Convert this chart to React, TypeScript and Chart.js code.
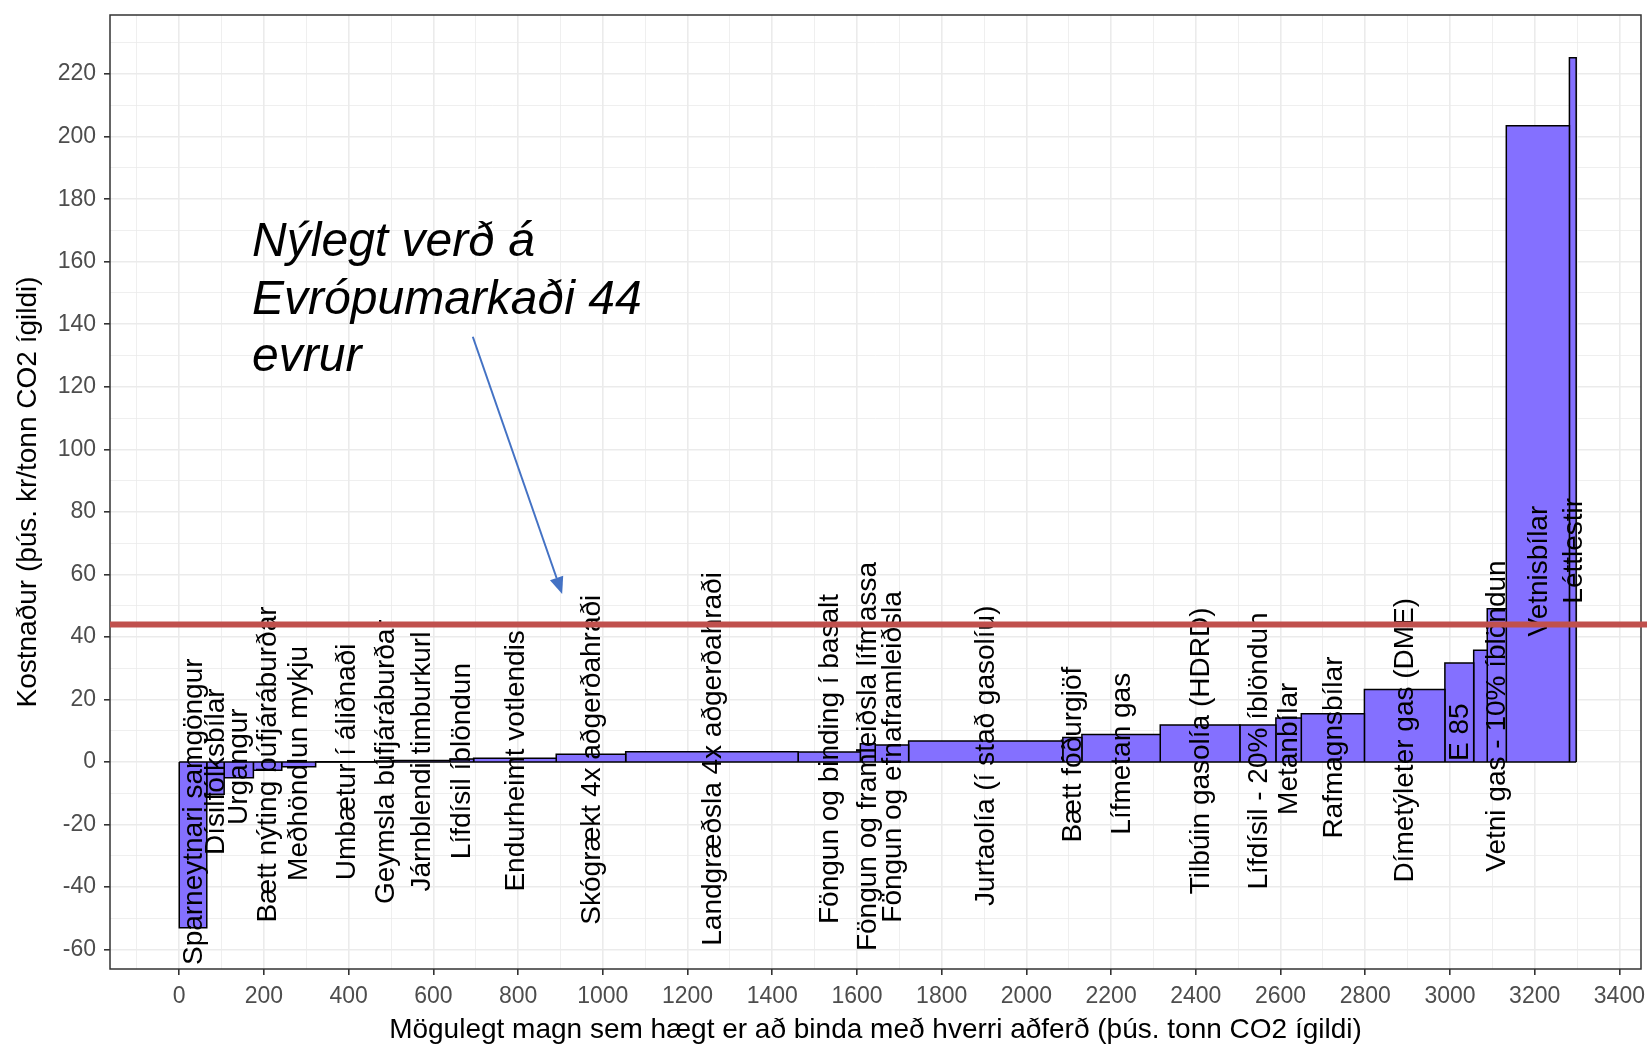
import React, { useEffect, useRef } from 'react';
import { Chart, registerables } from 'chart.js';

Chart.register(...registerables);

// ---- Data ----
const measures = [
  'Sparneytnari samgöngur',
  'Dísilfólksbílar',
  'Urgangur',
  'Bætt nýting búfjáráburðar',
  'Meðhöndlun mykju',
  'Umbætur í áliðnaði',
  'Geymsla búfjáráburðar',
  'Járnblendi timburkurl',
  'Lífdísil íblöndun',
  'Endurheimt votlendis',
  'Skógrækt 4x aðgerðahraði',
  'Landgræðsla 4x aðgerðahraði',
  'Föngun og binding í basalt',
  'Föngun og framleiðsla lífmassa',
  'Föngun og efnaframleiðsla',
  'Jurtaolía (í stað gasolíu)',
  'Bætt fóðurgjöf',
  'Lífmetan gas',
  'Tilbúin gasolía (HDRD)',
  'Lífdísil - 20% íblöndun',
  'Metanbílar',
  'Rafmagnsbílar',
  'Dímetýleter gas (DME)',
  'E 85',
  '',
  'Vetni gas - 10% íblöndun',
  'Vetnisbílar',
  'Léttlestir',
];

// potential amount (þús. tonn CO2 ígildi) of each measure = bar width
const amounts = [
  65, 41, 69, 67, 80, 144, 40, 133, 56, 195, 164, 407, 147, 35, 79, 364, 45, 185, 188, 85, 60, 149,
  190, 68, 32, 45, 149, 16,
];

// cost (þús. kr / tonn CO2 ígildi) = bar height
const costs = [
  -53, -10.3, -5.0, -2.6, -1.5, 0.1, 0.3, 0.5, 1.0, 1.2, 2.45, 3.3, 3.2, 5.8, 5.4, 6.7, 7.8, 8.8, 11.8,
  11.8, 14.1, 15.4, 23.2, 31.7, 35.7, 49.0, 203.5, 225.2,
];

const marketPrice = 44; // recent European market price
const annotationLines = ['Nýlegt verð á', 'Evrópumarkaði 44', 'evrur'];
const annotationAt = { x: 172, y: 161.7 };
const arrowFrom = { x: 693, y: 136 };
const arrowTo = { x: 904, y: 53.7 };

// visible axis ranges
const xRange = [-163.5, 3451];
const yRange = [-66.2, 238.9];

const xTitle = 'Mögulegt magn sem hægt er að binda með hverri aðferð (þús. tonn CO2 ígildi)';
const yTitle = 'Kostnaður (þús. kr/tonn CO2 ígildi)';

const xMajorStep = 200;
const yMajorStep = 20;

const FONT = '"Liberation Sans", Arial, Helvetica, sans-serif';

function cumulativeStarts(w: number[]): number[] {
  const out: number[] = [];
  let acc = 0;
  for (const v of w) {
    out.push(acc);
    acc += v;
  }
  return out;
}

function makeTicks(min: number, max: number, step: number) {
  const ticks: { value: number }[] = [];
  const k0 = Math.ceil(min / step);
  const k1 = Math.floor(max / step);
  for (let k = k0; k <= k1; k++) ticks.push({ value: Math.round(k * step) });
  return ticks;
}

export default function App() {
  const ref = useRef<HTMLCanvasElement | null>(null);

  useEffect(() => {
    document.body.style.margin = '0';
    const canvas = ref.current;
    if (!canvas) return;

    const starts = cumulativeStarts(amounts);
    const ends = starts.map((s, i) => s + amounts[i]);
    const xLo = 0;
    const xHi = ends[ends.length - 1];

    const barSets = costs.map((c, i) => ({
      label: measures[i] || 'bar' + i,
      data: [
        { x: starts[i], y: 0 },
        { x: starts[i], y: c },
        { x: ends[i], y: c },
        { x: ends[i], y: 0 },
      ],
      fill: 'origin',
      backgroundColor: '#8470FF',
      borderColor: '#000000',
      borderWidth: 1.5,
      pointRadius: 0,
      pointHoverRadius: 0,
      tension: 0,
    }));

    // bottom edges of the rectangles (all lie on y = 0)
    const baseline = {
      label: 'baseline',
      data: [
        { x: xLo, y: 0 },
        { x: xHi, y: 0 },
      ],
      fill: false,
      borderColor: '#000000',
      borderWidth: 1.5,
      pointRadius: 0,
      pointHoverRadius: 0,
    };

    const overlay = {
      id: 'overlay',
      afterDatasetsDraw(chart: any) {
        const { ctx, chartArea } = chart;
        const xs = chart.scales.x;
        const ys = chart.scales.y;
        // bar labels
        ctx.save();
        ctx.beginPath();
        ctx.rect(chartArea.left, chartArea.top, chartArea.right - chartArea.left, chartArea.bottom - chartArea.top);
        ctx.clip();
        ctx.fillStyle = '#000000';
        ctx.font = `28px ${FONT}`;
        ctx.textAlign = 'center';
        ctx.textBaseline = 'middle';
        measures.forEach((m, i) => {
          if (!m) return;
          const cx = xs.getPixelForValue((starts[i] + ends[i]) / 2);
          const cy = ys.getPixelForValue(costs[i] * 0.3);
          ctx.save();
          ctx.translate(cx, cy);
          ctx.rotate(-Math.PI / 2);
          ctx.fillText(m, 0, 1);
          ctx.restore();
        });
        ctx.restore();
        // panel border
        ctx.save();
        ctx.strokeStyle = '#333333';
        ctx.lineWidth = 1.5;
        ctx.strokeRect(chartArea.left, chartArea.top, chartArea.right - chartArea.left, chartArea.bottom - chartArea.top);
        ctx.restore();
      },
      afterDraw(chart: any) {
        const { ctx, chartArea, width } = chart;
        const xs = chart.scales.x;
        const ys = chart.scales.y;
        ctx.save();
        // axis titles
        ctx.fillStyle = '#000000';
        ctx.font = `28px ${FONT}`;
        ctx.textAlign = 'center';
        ctx.textBaseline = 'middle';
        ctx.fillText(xTitle, (chartArea.left + chartArea.right) / 2, 1030);
        ctx.save();
        ctx.translate(28, (chartArea.top + chartArea.bottom) / 2);
        ctx.rotate(-Math.PI / 2);
        ctx.fillText(yTitle, 0, 0);
        ctx.restore();

        // market price line
        const py = ys.getPixelForValue(marketPrice);
        ctx.strokeStyle = '#C0504D';
        ctx.lineWidth = 6;
        ctx.beginPath();
        ctx.moveTo(chartArea.left, py);
        ctx.lineTo(width, py);
        ctx.stroke();

        // arrow
        const ax0 = xs.getPixelForValue(arrowFrom.x);
        const ay0 = ys.getPixelForValue(arrowFrom.y);
        const ax1 = xs.getPixelForValue(arrowTo.x);
        const ay1 = ys.getPixelForValue(arrowTo.y);
        const ang = Math.atan2(ay1 - ay0, ax1 - ax0);
        const headLen = 17;
        const headW = 7;
        const bx = ax1 - headLen * Math.cos(ang);
        const by = ay1 - headLen * Math.sin(ang);
        ctx.strokeStyle = '#4472C4';
        ctx.fillStyle = '#4472C4';
        ctx.lineWidth = 2;
        ctx.beginPath();
        ctx.moveTo(ax0, ay0);
        ctx.lineTo(bx, by);
        ctx.stroke();
        ctx.beginPath();
        ctx.moveTo(ax1, ay1);
        ctx.lineTo(bx + headW * Math.sin(ang), by - headW * Math.cos(ang));
        ctx.lineTo(bx - headW * Math.sin(ang), by + headW * Math.cos(ang));
        ctx.closePath();
        ctx.fill();

        // annotation text
        ctx.fillStyle = '#000000';
        ctx.font = `italic 48px ${FONT}`;
        ctx.textAlign = 'left';
        ctx.textBaseline = 'alphabetic';
        const tx = xs.getPixelForValue(annotationAt.x);
        const ty = ys.getPixelForValue(annotationAt.y);
        annotationLines.forEach((l, i) => ctx.fillText(l, tx, ty + i * 57.5));
        ctx.restore();
      },
    };

    const chart = new Chart(canvas, {
      type: 'line',
      data: { datasets: [baseline, ...barSets] as any },
      options: {
        responsive: false,
        animation: false,
        devicePixelRatio: 1,
        layout: { padding: { left: 0, right: 6, top: 15, bottom: 0 } },
        plugins: {
          legend: { display: false },
          tooltip: { enabled: false },
          title: { display: false },
          filler: { propagate: false },
        },
        events: [],
        scales: {
          x: {
            type: 'linear',
            min: xRange[0],
            max: xRange[1],
            afterBuildTicks: (s: any) => {
              s.ticks = makeTicks(s.min, s.max, xMajorStep / 2);
            },
            afterFit: (s: any) => {
              s.height = 78;
              s.paddingLeft = 0;
              s.paddingRight = 0;
            },
            ticks: {
              autoSkip: false,
              maxRotation: 0,
              minRotation: 0,
              padding: 8,
              color: '#4D4D4D',
              font: { family: FONT, size: 23 },
              callback: (v: any) => (Number(v) % xMajorStep === 0 ? String(v) : ''),
            },
            grid: {
              color: '#EBEBEB',
              lineWidth: (c: any) => (c.tick && c.tick.value % xMajorStep === 0 ? 1.6 : 0.8),
              tickColor: (c: any) => (c.tick && c.tick.value % xMajorStep === 0 ? '#333333' : 'rgba(0,0,0,0)'),
              tickLength: 6,
              drawTicks: true,
            },
            border: { display: false },
          },
          y: {
            type: 'linear',
            min: yRange[0],
            max: yRange[1],
            afterBuildTicks: (s: any) => {
              s.ticks = makeTicks(s.min, s.max, yMajorStep / 2);
            },
            afterFit: (s: any) => {
              s.width = 110;
              s.paddingTop = 0;
              s.paddingBottom = 0;
            },
            ticks: {
              autoSkip: false,
              padding: 8,
              color: '#4D4D4D',
              font: { family: FONT, size: 23 },
              callback: (v: any) => (Number(v) % yMajorStep === 0 ? String(v) : ''),
            },
            grid: {
              color: '#EBEBEB',
              lineWidth: (c: any) => (c.tick && c.tick.value % yMajorStep === 0 ? 1.6 : 0.8),
              tickColor: (c: any) => (c.tick && c.tick.value % yMajorStep === 0 ? '#333333' : 'rgba(0,0,0,0)'),
              tickLength: 6,
              drawTicks: true,
            },
            border: { display: false },
          },
        },
      },
      plugins: [overlay],
    });

    return () => chart.destroy();
  }, []);

  return (
    <div style={{ position: 'absolute', left: 0, top: 0, width: 1647, height: 1047, background: '#ffffff' }}>
      <canvas ref={ref} width={1647} height={1047} style={{ display: 'block' }} />
    </div>
  );
}
